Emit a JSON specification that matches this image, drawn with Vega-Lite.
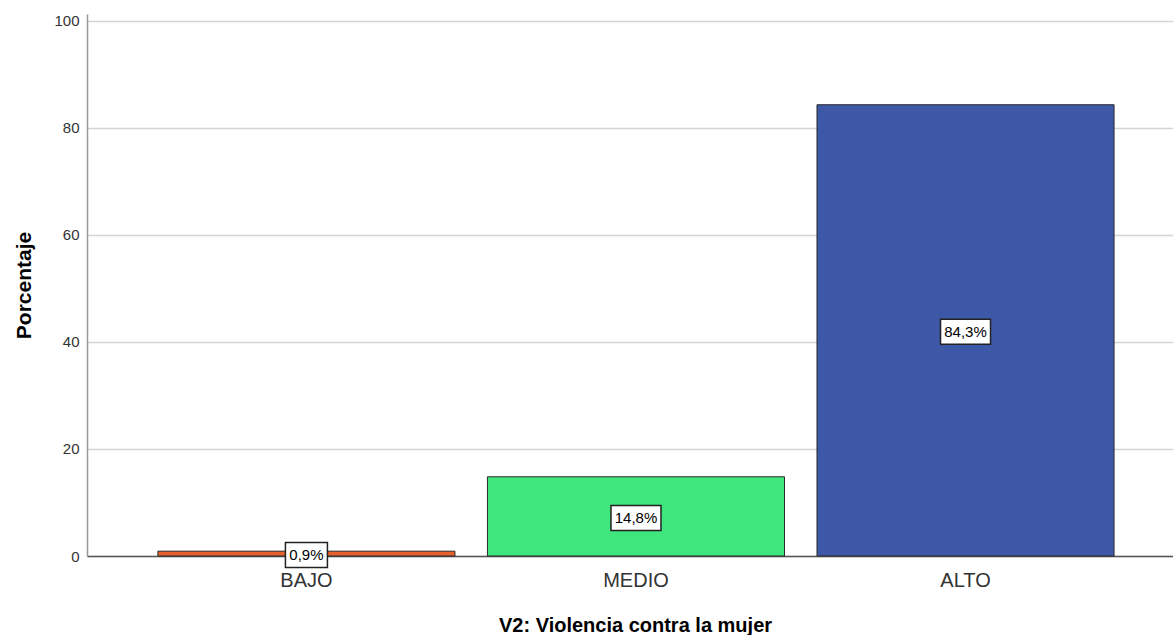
{
  "$schema": "https://vega.github.io/schema/vega-lite/v6.json",
  "autosize": {"type": "none"},
  "width": 1086,
  "height": 542,
  "padding": {"left": 87, "top": 14, "right": 0, "bottom": 79},
  "background": "white",
  "config": {
    "font": "Liberation Sans",
    "view": {"stroke": null}
  },
  "data": {
    "values": [
      {"cat": "BAJO", "pct": 0.9, "label": "0,9%"},
      {"cat": "MEDIO", "pct": 14.8, "label": "14,8%"},
      {"cat": "ALTO", "pct": 84.3, "label": "84,3%"}
    ]
  },
  "encoding": {
    "x": {
      "field": "cat",
      "type": "nominal",
      "sort": ["BAJO", "MEDIO", "ALTO"],
      "scale": {"paddingInner": 0.0986, "paddingOuter": 0.197, "align": 0.546},
      "axis": {
        "title": "V2: Violencia contra la mujer",
        "titleFont": "Liberation Sans",
        "titleFontSize": 20,
        "titleFontWeight": "bold",
        "titleColor": "#000000",
        "titlePadding": 25,
        "titleX": 548,
        "labelAngle": 0,
        "labelFontSize": 20,
        "labelColor": "#333333",
        "labelPadding": 14,
        "ticks": false,
        "domainColor": "#555555",
        "domainWidth": 1.5,
        "grid": false
      }
    }
  },
  "layer": [
    {
      "mark": {"type": "bar", "stroke": "#2a2a2a", "strokeWidth": 1},
      "encoding": {
        "y": {
          "field": "pct",
          "type": "quantitative",
          "scale": {"domain": [0, 101.25], "nice": false},
          "axis": {
            "title": "Porcentaje",
            "titleFontSize": 21,
            "titleFontWeight": "bold",
            "titleColor": "#000000",
            "titlePadding": 19,
            "values": [0, 20, 40, 60, 80, 100],
            "labelFontSize": 15,
            "labelColor": "#333333",
            "labelPadding": 8,
            "ticks": false,
            "domainColor": "#999999",
            "domainWidth": 1.5,
            "grid": true,
            "gridColor": "#d4d4d4",
            "gridWidth": 1.5
          }
        },
        "color": {
          "field": "cat",
          "type": "nominal",
          "scale": {"domain": ["BAJO", "MEDIO", "ALTO"], "range": ["#e6602c", "#3fe57d", "#3d58a6"]},
          "legend": null
        }
      }
    },
    {
      "transform": [{"calculate": "datum.pct / 2", "as": "mid"}],
      "mark": {"type": "point", "filled": true, "fill": "white", "stroke": "#222222", "strokeWidth": 1.5, "opacity": 1, "size": 4, "yOffset": 1.5},
      "encoding": {
        "y": {"field": "mid", "type": "quantitative"},
        "shape": {
          "condition": {"test": "datum.cat === 'BAJO'", "value": "M-21,-12.5L21,-12.5L21,12.5L-21,12.5Z"},
          "value": "M-25,-12.5L25,-12.5L25,12.5L-25,12.5Z"
        }
      }
    },
    {
      "transform": [{"calculate": "datum.pct / 2", "as": "mid"}],
      "mark": {"type": "text", "fontSize": 15, "color": "#000000", "baseline": "middle", "align": "center", "yOffset": 1.5},
      "encoding": {
        "y": {"field": "mid", "type": "quantitative"},
        "text": {"field": "label"}
      }
    }
  ]
}
